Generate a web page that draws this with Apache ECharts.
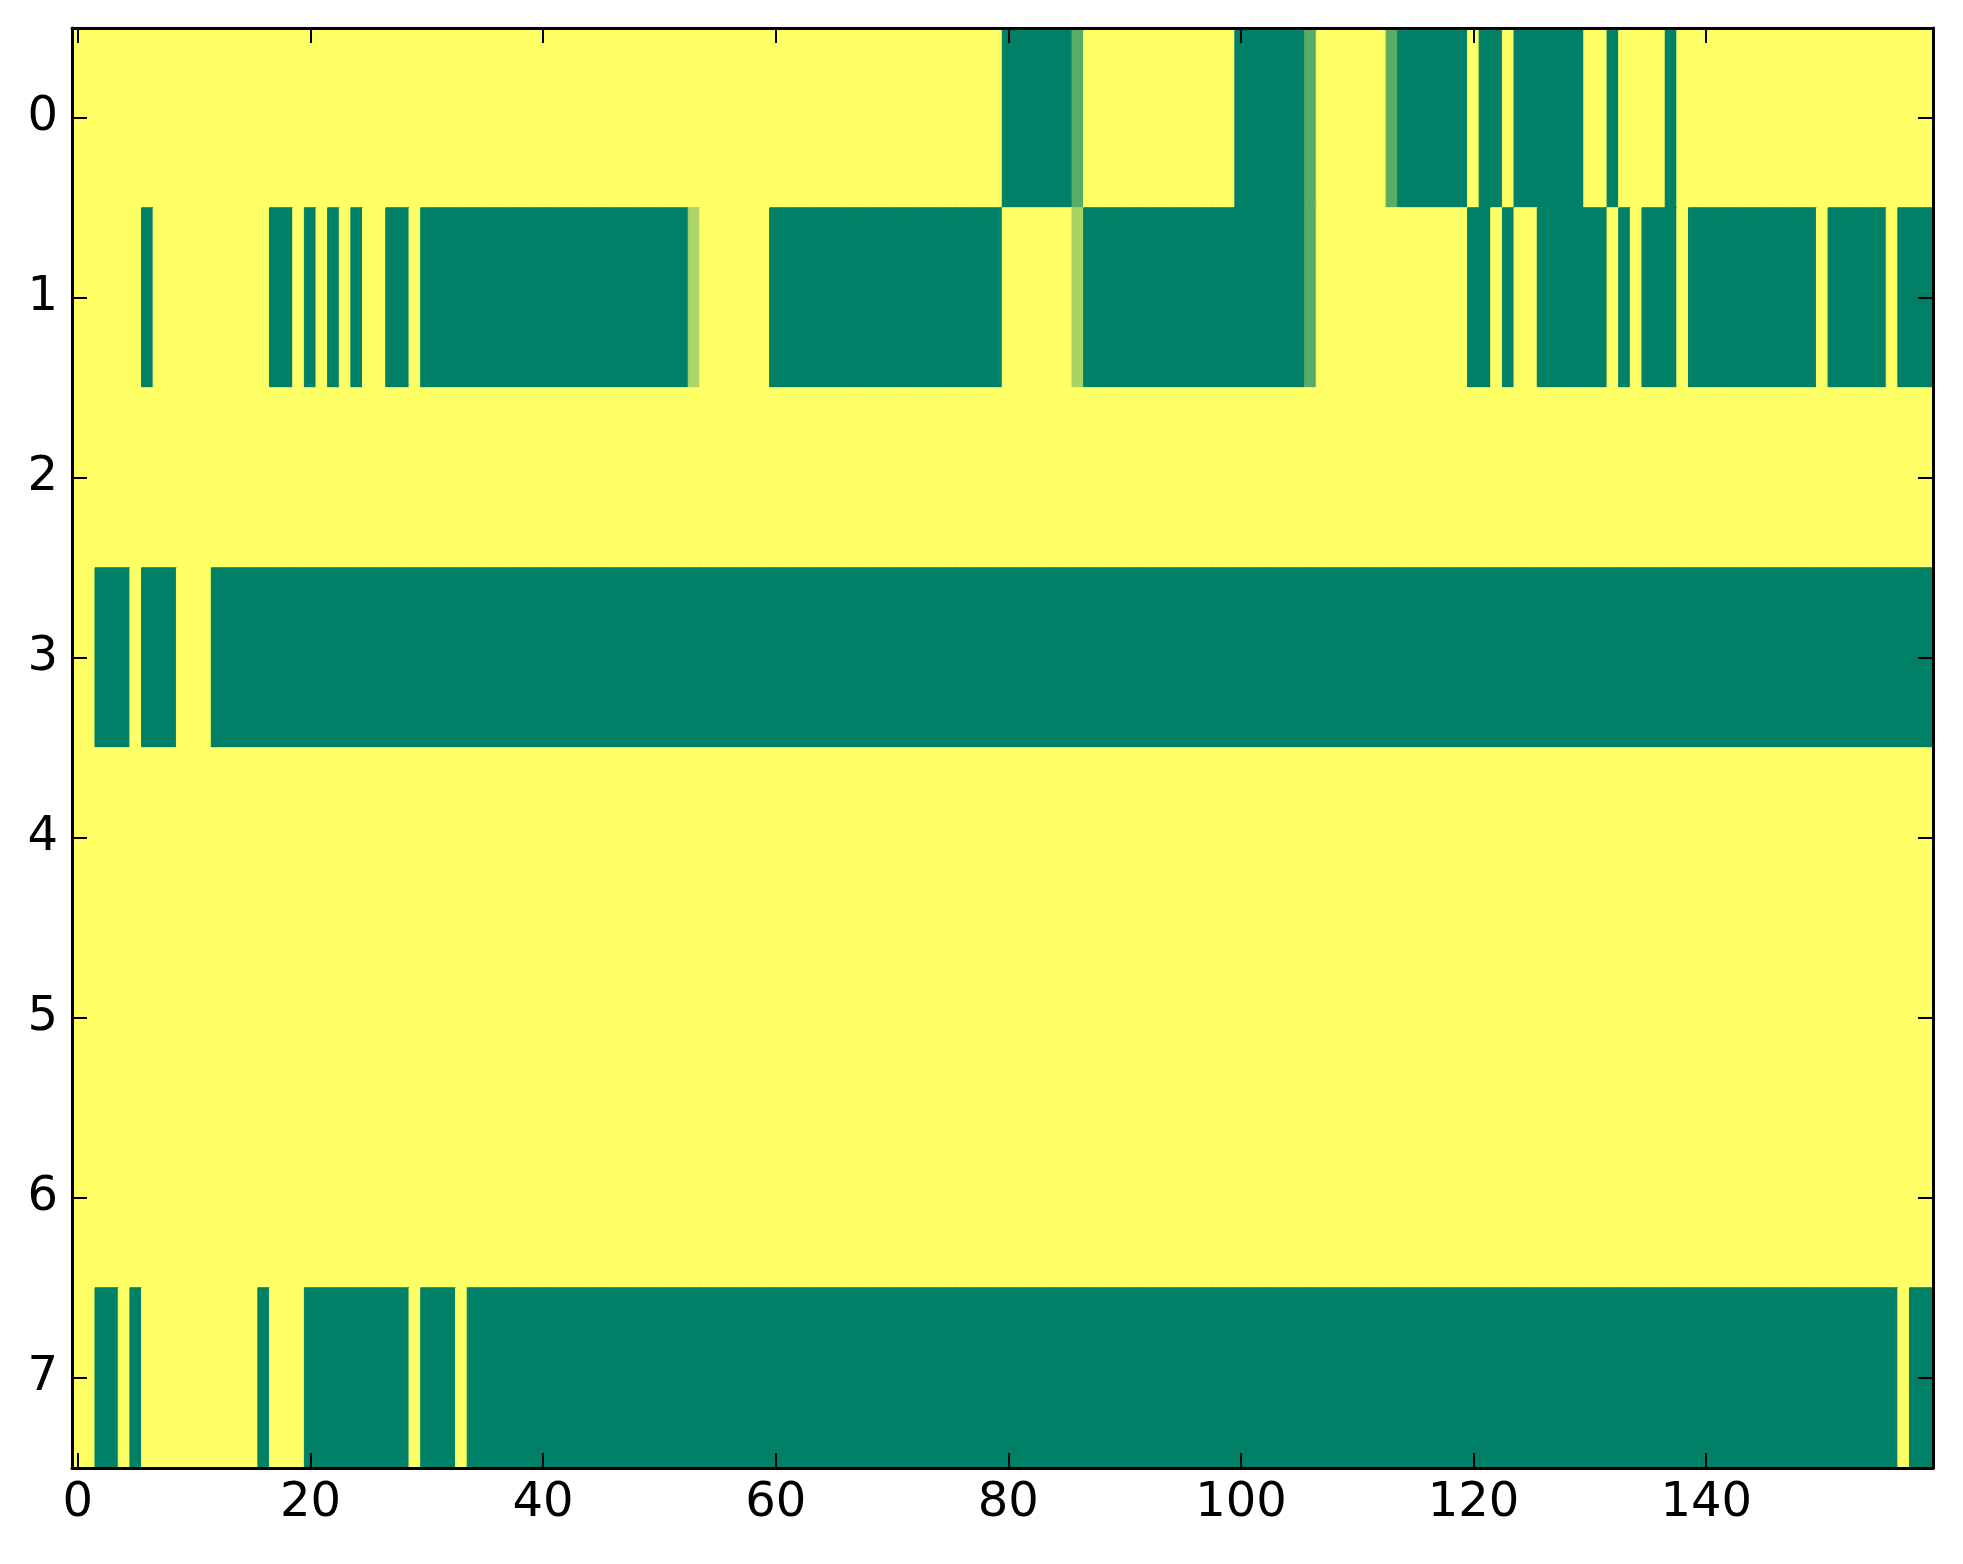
<!DOCTYPE html>
<html>
<head>
<meta charset="utf-8">
<script src="https://cdn.jsdelivr.net/npm/echarts@6.0.0/dist/echarts.min.js"></script>
<style>
    html, body { margin: 0; padding: 0; background: #fff; }
    #chart { width: 1963px; height: 1564px; }
</style>
</head>
<body>
<div id="chart"></div>
<script>
// each row is a list of [value, run length] read left to right, 160 columns
let row0 = [[1,80],[0,6],[0.35,1],[1,13],[0,6],[0.35,1],[1,6],[0.35,1],[0,6],[1,1],[0,2],[1,1],[0,6],[1,2],[0,1],[1,4],[0,1],[1,22]];
let row1 = [[1,6],[0,1],[1,10],[0,2],[1,1],[0,1],[1,1],[0,1],[1,1],[0,1],[1,2],[0,2],[1,1],[0,23],[0.67,1],[1,6],[0,20],[1,6],[0.66,1],[0,19],[0.35,1],[1,13],[0,2],[1,1],[0,1],[1,2],[0,6],[1,1],[0,1],[1,1],[0,3],[1,1],[0,11],[1,1],[0,5],[1,1],[0,3]];
let row2 = [[1,160]];
let row3 = [[1,2],[0,3],[1,1],[0,3],[1,3],[0,148]];
let row4 = [[1,160]];
let row5 = [[1,160]];
let row6 = [[1,160]];
let row7 = [[1,2],[0,2],[1,1],[0,1],[1,10],[0,1],[1,3],[0,9],[1,1],[0,3],[1,1],[0,123],[1,1],[0,2]];
let rows = [row0, row1, row2, row3, row4, row5, row6, row7];

let xCategories = [];
for (let i = 0; i < 160; i++) xCategories.push(String(i));
let yCategories = ['0','1','2','3','4','5','6','7'];
let xTickStep = 20;

let font = 'DejaVu Sans';
let everyTwenty = function (index) { return index % xTickStep === 0; };

// matplotlib "summer" colormap, used only to paint cell borders so no seams show
function summer(v) {
    let r = Math.round(255 * v), g = Math.round(127.5 + 127.5 * v);
    return 'rgb(' + r + ',' + g + ',102)';
}

function frameAxis(extra) {
    return Object.assign({
        z: 10,
        axisLine: { show: true, lineStyle: { color: '#000', width: 3 } },
        axisTick: { show: true, inside: true, alignWithLabel: true, length: 15, lineStyle: { color: '#000', width: 2 } },
        splitLine: { show: false }
    }, extra);
}

let option = {
    animation: false,
    grid: { left: 72, right: 30, top: 28, bottom: 96 },
    visualMap: {
        show: false,
        type: 'continuous',
        min: 0,
        max: 1,
        seriesIndex: 0,
        inRange: { color: ['#008066', '#ffff66'] }
    },
    xAxis: [
        frameAxis({ type: 'category', data: xCategories, position: 'bottom',
            axisTick: { show: true, inside: true, alignWithLabel: true, interval: everyTwenty, length: 15, lineStyle: { color: '#000', width: 2 } },
            axisLabel: { interval: everyTwenty, margin: 12, color: '#000', fontSize: 48, fontFamily: font } }),
        frameAxis({ type: 'category', data: xCategories, position: 'top',
            axisTick: { show: true, inside: true, alignWithLabel: true, interval: everyTwenty, length: 15, lineStyle: { color: '#000', width: 2 } },
            axisLabel: { show: false } })
    ],
    yAxis: [
        frameAxis({ type: 'category', data: yCategories, inverse: true, position: 'left',
            axisLabel: { margin: 14, color: '#000', fontSize: 48, fontFamily: font } }),
        frameAxis({ type: 'category', data: yCategories, inverse: true, position: 'right',
            axisLabel: { show: false } })
    ],
    series: [{
        type: 'heatmap',
        xAxisIndex: 0,
        yAxisIndex: 0,
        z: 1,
        progressiveThreshold: 100000,
        data: []
    }]
};

let cells = [];
for (let r = 0; r < rows.length; r++) {
    let col = 0;
    for (let k = 0; k < rows[r].length; k++) {
        let v = rows[r][k][0], n = rows[r][k][1];
        for (let j = 0; j < n; j++) {
            cells.push({ value: [col, r, v], itemStyle: { borderColor: summer(v), borderWidth: 1 } });
            col++;
        }
    }
}
option.series[0].data = cells;

let myChart = echarts.init(document.getElementById('chart'));
myChart.setOption(option);
</script>
</body>
</html>
